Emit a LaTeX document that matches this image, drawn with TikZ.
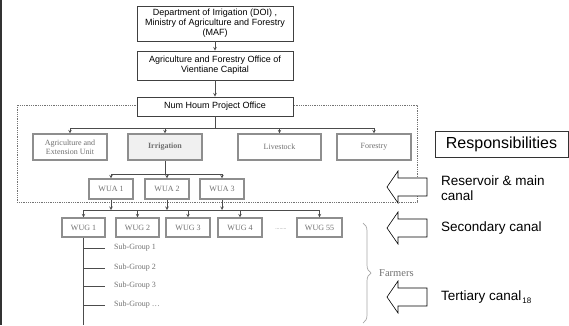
\documentclass[tikz,border=0pt]{standalone}
\usepackage{fontspec}
\setmainfont{Liberation Sans}
\newfontfamily\timesfont{Liberation Serif}
\usepackage{tikz}
\usetikzlibrary{arrows,positioning,decorations.pathreplacing}
\definecolor{boxgray}{HTML}{8E8E8E}
\definecolor{textgray}{HTML}{707070}
\definecolor{fillgray}{HTML}{F0F0F0}

\begin{document}
\begin{tikzpicture}[
  x=1pt, y=-1pt,
  office/.style={draw=black!75, line width=0.9pt, fill=white, minimum width=156pt, align=center, font=\fontsize{9}{10}\selectfont, inner sep=1pt},
  unit/.style={draw=boxgray, line width=1.1pt, fill=white, align=center, text=textgray, font=\timesfont\fontsize{8}{9}\selectfont, inner sep=1pt},
  subgrp/.style={text=textgray, font=\timesfont\fontsize{8}{9}\selectfont, inner sep=0pt, anchor=west},
  level/.style={font=\fontsize{13.5}{15}\selectfont, align=left, inner sep=0pt, anchor=west},
  link/.style={draw=black!70, line width=0.6pt},
  feed/.style={link, ->, >=stealth},
  hollow/.style={draw=black, line width=0.6pt, fill=white},
  frame/.style={draw=black!55, densely dotted, line width=0.8pt}
]
\useasboundingbox (0,0) rectangle (569,325);

% dotted project boundary
\draw[frame] (17,105) rectangle (417,202);

% ministry levels
\node[office, minimum height=35pt] (doi) at (215,23.5) {Department of Irrigation (DOI) ,\\Ministry of Agriculture and Forestry\\(MAF)};
\node[office, minimum height=29pt] (afo) at (215,65.5) {Agriculture and Forestry Office of\\Vientiane Capital};
\node[office, minimum height=19pt] (nhp) at (215,106.5) {Num Houm Project Office};
\draw[feed] (doi) -- (afo);
\draw[feed] (afo) -- (nhp);

% project units
\node[unit, minimum width=74pt, minimum height=26pt] (aeu) at (70,147) {Agriculture and\\Extension Unit};
\node[unit, minimum width=74pt, minimum height=26pt, fill=fillgray] (irr) at (165,147) {\textbf{Irrigation}};
\node[unit, minimum width=83pt, minimum height=26pt] (liv) at (279.5,147) {Livestock};
\node[unit, minimum width=74pt, minimum height=26pt] (frs) at (374,147) {Forestry};
\coordinate (unitbus) at (215,128);
\draw[link] (aeu.north |- unitbus) -- (frs.north |- unitbus);
\draw[link] (nhp.south) -- (unitbus);
\draw[feed] (aeu.north |- unitbus) -- (aeu.north);
\draw[feed] (irr.north |- unitbus) -- (irr.north);
\draw[feed] (liv.north |- unitbus) -- (liv.north);
\draw[feed] (frs.north |- unitbus) -- (frs.north);

% water user associations
\node[unit, minimum width=44pt, minimum height=20pt] (wua1) at (111,189) {WUA 1};
\node[unit, minimum width=44pt, minimum height=20pt] (wua2) at (167,189) {WUA 2};
\node[unit, minimum width=44pt, minimum height=20pt] (wua3) at (222,189) {WUA 3};
\coordinate (wuabus) at (165,174);
\draw[link] (wua1.north |- wuabus) -- (wua3.north |- wuabus);
\draw[link] (irr.south) -- (irr.south |- wuabus);
\draw[feed] (wua1.north |- wuabus) -- (wua1.north);
\draw[feed] (wua2.north |- wuabus) -- (wua2.north);
\draw[feed] (wua3.north |- wuabus) -- (wua3.north);

% water user groups
\node[unit, minimum width=43pt, minimum height=19pt] (wug1) at (83.5,227.5) {WUG 1};
\node[unit, minimum width=43pt, minimum height=19pt] (wug2) at (137.5,227.5) {WUG 2};
\node[unit, minimum width=44pt, minimum height=19pt] (wug3) at (188,227.5) {WUG 3};
\node[unit, minimum width=44pt, minimum height=19pt] (wug4) at (240,227.5) {WUG 4};
\node[text=textgray, font=\fontsize{5}{5}\selectfont, inner sep=0pt] (wugdots) at (281,229) {........};
\node[unit, minimum width=45pt, minimum height=19pt] (wug55) at (319.5,227.5) {WUG 55};
\coordinate (wugbus) at (200,210);
\draw[link] (wug1.north |- wugbus) -- (wug55.north |- wugbus);
\draw[feed] (wua1.south) -- (wua1.south |- wugbus);
\draw[feed] (wua2.south) -- (wua2.south |- wugbus);
\draw[feed] (wua3.south) -- (wua3.south |- wugbus);
\draw[feed] (wug1.north |- wugbus) -- (wug1.north);
\draw[feed] (wug2.north |- wugbus) -- (wug2.north);
\draw[feed] (wug3.north |- wugbus) -- (wug3.north);
\draw[feed] (wug4.north |- wugbus) -- (wug4.north);
\draw[feed] (wug55.north |- wugbus) -- (wug55.north);

% sub-groups under WUG 1
\node[subgrp] (sg1) at (114,248) {Sub-Group 1};
\node[subgrp] (sg2) at (114,268) {Sub-Group 2};
\node[subgrp] (sg3) at (114,286) {Sub-Group 3};
\node[subgrp] (sg4) at (114,305) {Sub-Group \dots};
\coordinate (trunkend) at (83.5,325);
\draw[link] (wug1.south) -- (trunkend);
\draw[link] (wug1.south |- sg1.west) -- ([xshift=-9pt]sg1.west);
\draw[link] (wug1.south |- sg2.west) -- ([xshift=-9pt]sg2.west);
\draw[link] (wug1.south |- sg3.west) -- ([xshift=-9pt]sg3.west);
\draw[link] (wug1.south |- sg4.west) -- ([xshift=-9pt]sg4.west);

% farmers brace
\coordinate (brtop) at (363,223);
\coordinate (brbot) at (363,323);
\draw[draw=black!35, line width=0.7pt, decorate, decoration={brace, amplitude=8pt}] (brtop) -- (brbot);
\node[text=textgray, font=\timesfont\fontsize{10.5}{10.5}\selectfont, inner sep=0pt, anchor=west] (farm) at (379,273) {Farmers};

% responsibilities
\node[draw=black!80, line width=0.7pt, minimum width=133pt, minimum height=26pt, font=\fontsize{16}{16}\selectfont, inner sep=0pt] (resp) at (501.5,144) {Responsibilities};
\draw[hollow] (387,187) -- ++(11,-16) -- ++(0,7) -- ++(29,0) -- ++(0,18) -- ++(-29,0) -- ++(0,7) -- cycle;
\draw[hollow] (387,228) -- ++(11,-16) -- ++(0,7) -- ++(29,0) -- ++(0,18) -- ++(-29,0) -- ++(0,7) -- cycle;
\draw[hollow] (387,297) -- ++(11,-16) -- ++(0,7) -- ++(29,0) -- ++(0,18) -- ++(-29,0) -- ++(0,7) -- cycle;
\node[level] (lvl1) at (441,188) {Reservoir \& main\\canal};
\node[level] (lvl2) at (441,228) {Secondary canal};
\node[level] (lvl3) at (441,297) {Tertiary canal};
\node[font=\fontsize{8}{8}\selectfont, inner sep=0pt, anchor=west] (pgno) at ([xshift=0.5pt,yshift=-4pt]lvl3.east) {18};

% slide edge
\draw[black!80, line width=2pt] (1,0) -- (1,325);
\end{tikzpicture}
\end{document}
